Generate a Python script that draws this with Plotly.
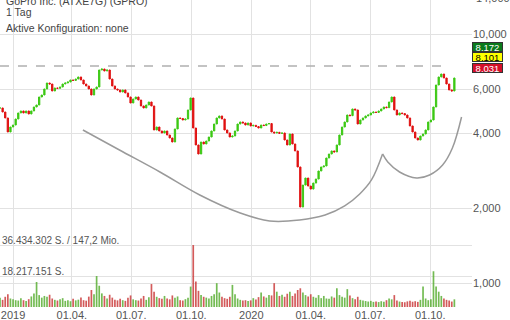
import plotly.graph_objects as go
import pandas as pd

# ---- data ----
start_date = "2018-12-12"
step_days = 4
closes = [
    5047, 4863, 4601, 4042, 4233, 4312, 4558, 4819, 4909, 4819,
    4909, 4774, 4909, 5093, 5188, 5586, 5690, 6015, 6358, 6299,
    5905, 6071, 6050, 6127, 6299, 6358, 6417, 6537, 6510, 6597,
    6721, 6537, 6299, 6184, 6015, 5690, 6015, 6127, 7170, 7236,
    7103, 7170, 6597, 6184, 6015, 5960, 5850, 5960, 5797, 5586,
    5285, 5484, 5586, 5433, 5141, 5047, 5188, 5334, 5141, 4118,
    4233, 4080, 4005, 4080, 3931, 3824, 3685, 4156, 4601, 4580,
    4516, 4558, 4954, 5535, 4194, 3585, 3298, 3685, 3618, 3719,
    3859, 4080, 4352, 4601, 4687, 4558, 4118, 4005, 3859, 3895,
    4080, 4352, 4434, 4393, 4312, 4393, 4273, 4300, 4250, 4194,
    4312, 4290, 4352, 4370, 4042, 4005, 4030, 3990, 4005, 3754,
    3585, 3968, 3618, 3392, 2925, 2020, 2475, 2641, 2453, 2385,
    2521, 2617, 2818, 2925, 2952, 3178, 3298, 3392, 3360, 3585,
    3931, 4233, 4434, 4730, 4700, 5000, 4954, 4352, 4516, 4601,
    4687, 4730, 4819, 4863, 4840, 4909, 5000, 5093, 5060, 5334,
    5586, 4954, 4730, 4819, 4790, 4730, 4601, 4273, 4042, 3824,
    3754, 3895, 3968, 4118, 4434, 4516, 5093, 6241, 6721, 6909,
    6659, 6299, 5960, 5905, 6659,
]
volumes_mio = [
    5.5, 4.2, 6.0, 7.5, 5.0, 4.5, 4.0, 3.8, 5.2, 4.0,
    3.5, 4.6, 6.2, 8.0, 14.7, 7.0, 5.5, 6.5, 6.0, 7.2,
    5.0, 4.2, 3.8, 4.5, 5.2, 3.6, 4.0, 3.4, 4.8, 3.9,
    4.3, 5.6, 4.0, 3.7, 6.1, 10.0, 7.5, 18.2, 12.5, 8.0,
    6.5, 5.0, 7.2, 5.5, 4.2, 3.9, 4.8, 4.0, 3.6, 5.5,
    6.8, 4.5, 4.0, 3.8, 5.0, 6.5, 4.2, 5.8, 13.5, 9.0,
    6.0, 5.2, 4.8, 6.5, 5.0, 4.5, 6.8, 5.5, 6.2, 4.0,
    3.8, 4.6, 5.5, 12.0, 36.4, 15.0, 9.5, 7.0, 6.0, 5.5,
    5.0, 6.5, 7.5, 14.0, 8.5, 6.0, 5.2, 4.8, 6.0, 13.0,
    7.5, 5.0, 4.2, 3.8, 4.0, 3.5, 3.9, 5.2, 4.4, 5.8,
    8.5, 6.2, 5.5, 7.0, 6.8, 14.0, 9.0, 6.5, 7.2, 6.0,
    7.8, 9.0, 6.5, 8.0, 10.0, 11.0, 8.5, 7.0, 6.2, 7.5,
    6.0, 5.5, 7.0, 5.2, 6.5, 5.0, 4.8, 6.2, 5.5, 11.0,
    7.0, 6.0, 5.5, 10.5, 6.8, 5.2, 4.5, 6.0, 4.2, 3.8,
    3.5, 3.2, 3.6, 3.0, 3.3, 2.9, 3.4, 3.1, 4.0, 5.0,
    4.5, 7.0, 3.8, 3.2, 3.0, 2.8, 3.3, 3.6, 3.1, 3.4,
    3.0, 4.2, 12.0, 5.0, 4.0, 4.6, 21.0, 12.0, 9.0, 6.5,
    5.0, 4.2, 3.8, 3.2, 4.5,
]
# cup drawing
cup_dates = ["2019-04-18", "2019-06-13", "2019-08-14", "2019-10-14", "2019-12-15",
             "2020-01-29", "2020-03-15", "2020-04-23", "2020-05-23", "2020-06-15",
             "2020-07-03", "2020-07-20"]
cup_prices = [4118, 3422, 2793, 2258, 1911, 1776, 1792, 1876, 2040, 2279, 2594, 3299]
handle_dates = ["2020-07-20", "2020-07-28", "2020-08-15", "2020-09-10", "2020-09-30",
                "2020-10-20", "2020-11-04", "2020-11-18"]
handle_prices = [3299, 3063, 2793, 2642, 2716, 2979, 3485, 4642]
high_line_dates = ["2018-12-12", "2020-10-27"]
high_line_price = [7438, 7438]

x_tickvals = ["2019-01-01", "2019-04-01", "2019-07-01", "2019-10-01",
              "2020-01-01", "2020-04-01", "2020-07-01", "2020-10-01"]
x_ticktext = ["2019", "01.04.", "01.07.", "01.10.", "2020", "01.04.", "01.07.", "01.10."]
y_tickvals = [1000, 2000, 4000, 6000, 10000]
y_ticktext = ["1,000", "2,000", "4,000", "6,000", "10,000"]
vol_max_label = "36.434.302 S. / 147,2 Mio."
vol_half_label = "18.217.151 S."
vol_grid = [18.217, 36.434]
last_labels = ["8,172", "8,101", "8,031"]

# ---- derived ----
dates = pd.date_range(start_date, periods=len(closes), freq=f"{step_days}D")
opens = [closes[0]] + closes[:-1]
highs = [max(o, c) for o, c in zip(opens, closes)]
lows = [min(o, c) for o, c in zip(opens, closes)]
vol_colors = ["rgba(80,170,40,0.8)" if c >= o else "rgba(200,50,50,0.8)"
              for o, c in zip(opens, closes)]

GREEN = "#3cc814"
RED = "#e01010"
GRID = "#e2e2e2"
FONT = "Liberation Sans, Arial, sans-serif"

fig = go.Figure()
fig.add_trace(go.Scatter(x=high_line_dates, y=high_line_price, mode="lines",
                         line=dict(color="#b0b0b0", width=1.5, dash="dash"),
                         hoverinfo="skip", yaxis="y"))
fig.add_trace(go.Scatter(x=cup_dates, y=cup_prices, mode="lines",
                         line=dict(color="#9a9a9a", width=1.5, shape="spline"),
                         hoverinfo="skip", yaxis="y"))
fig.add_trace(go.Scatter(x=handle_dates, y=handle_prices, mode="lines",
                         line=dict(color="#9a9a9a", width=1.5, shape="spline"),
                         hoverinfo="skip", yaxis="y"))
fig.add_trace(go.Candlestick(
    x=dates, open=opens, high=highs, low=lows, close=closes,
    increasing=dict(line=dict(color=GREEN, width=1), fillcolor=GREEN),
    decreasing=dict(line=dict(color=RED, width=1), fillcolor=RED),
    yaxis="y"))
fig.add_trace(go.Bar(x=dates, y=volumes_mio, marker=dict(color=vol_colors, line=dict(width=0)),
                     yaxis="y2"))

H_PLOT = 307.0
ann = []
ann.append(dict(text="GoPro Inc. (ATXE7G) (GPRO)", x=0.008, y=1 - 1 / H_PLOT, xref="paper",
                yref="paper", xanchor="left", yanchor="middle", showarrow=False,
                font=dict(size=10.5, color="#444", family=FONT)))
ann.append(dict(text="1 Tag", x=0.008, y=1 - 12 / H_PLOT, xref="paper", yref="paper",
                xanchor="left", yanchor="middle", showarrow=False,
                font=dict(size=10.5, color="#444", family=FONT)))
ann.append(dict(text="Aktive Konfiguration: none", x=0.008, y=1 - 28 / H_PLOT, xref="paper",
                yref="paper", xanchor="left", yanchor="middle", showarrow=False,
                font=dict(size=10.5, color="#444", family=FONT)))
ann.append(dict(text=vol_max_label, x=0, y=1 - 240 / H_PLOT, xref="paper", yref="paper",
                xanchor="left", yanchor="middle", showarrow=False,
                font=dict(size=10, color="#555", family=FONT)))
ann.append(dict(text=vol_half_label, x=0, y=1 - 271 / H_PLOT, xref="paper", yref="paper",
                xanchor="left", yanchor="middle", showarrow=False,
                font=dict(size=10, color="#555", family=FONT)))
ann.append(dict(text="14,000", x=1, y=1 + 2.4 / H_PLOT, xref="paper", yref="paper",
                xanchor="left", xshift=2, yanchor="middle", showarrow=False,
                font=dict(size=11, color="#555", family=FONT)))
box_styles = [("#0b7a1c", "white", 46.5), ("#ffff00", "black", 57), ("#d4102a", "white", 67.5)]
for lab, (bg, fg, yc) in zip(last_labels, box_styles):
    ann.append(dict(text=lab, x=1, y=1 - yc / H_PLOT, xref="paper", yref="paper",
                    xanchor="left", yanchor="middle", showarrow=False,
                    bgcolor=bg, bordercolor="#333", borderwidth=1, borderpad=0,
                    width=29, height=8,
                    font=dict(size=9.5, color=fg, family=FONT)))

fig.update_layout(
    width=510, height=320,
    margin=dict(l=0, r=38, t=0, b=13),
    paper_bgcolor="white", plot_bgcolor="white",
    showlegend=False,
    bargap=0.35,
    font=dict(family=FONT, size=11, color="#555"),
    xaxis=dict(type="date", range=["2018-12-12", "2020-12-04"],
               tickvals=x_tickvals, ticktext=x_ticktext,
               showgrid=True, gridcolor=GRID, gridwidth=1, zeroline=False, showline=False,
               ticks="", tickfont=dict(size=11, color="#555"),
               rangeslider=dict(visible=False)),
    yaxis=dict(type="log", range=[2.904, 4.1365], side="right",
               tickvals=y_tickvals, ticktext=y_ticktext,
               showgrid=True, gridcolor=GRID, gridwidth=1, zeroline=False, showline=False,
               ticks="", tickfont=dict(size=11, color="#555")),
    yaxis2=dict(overlaying="y", side="left", range=[0, 180.4],
                tickvals=vol_grid, showticklabels=False,
                showgrid=True, gridcolor=GRID, gridwidth=1, zeroline=False, showline=False,
                ticks=""),
    annotations=ann,
)

fig.write_html("out.html")
